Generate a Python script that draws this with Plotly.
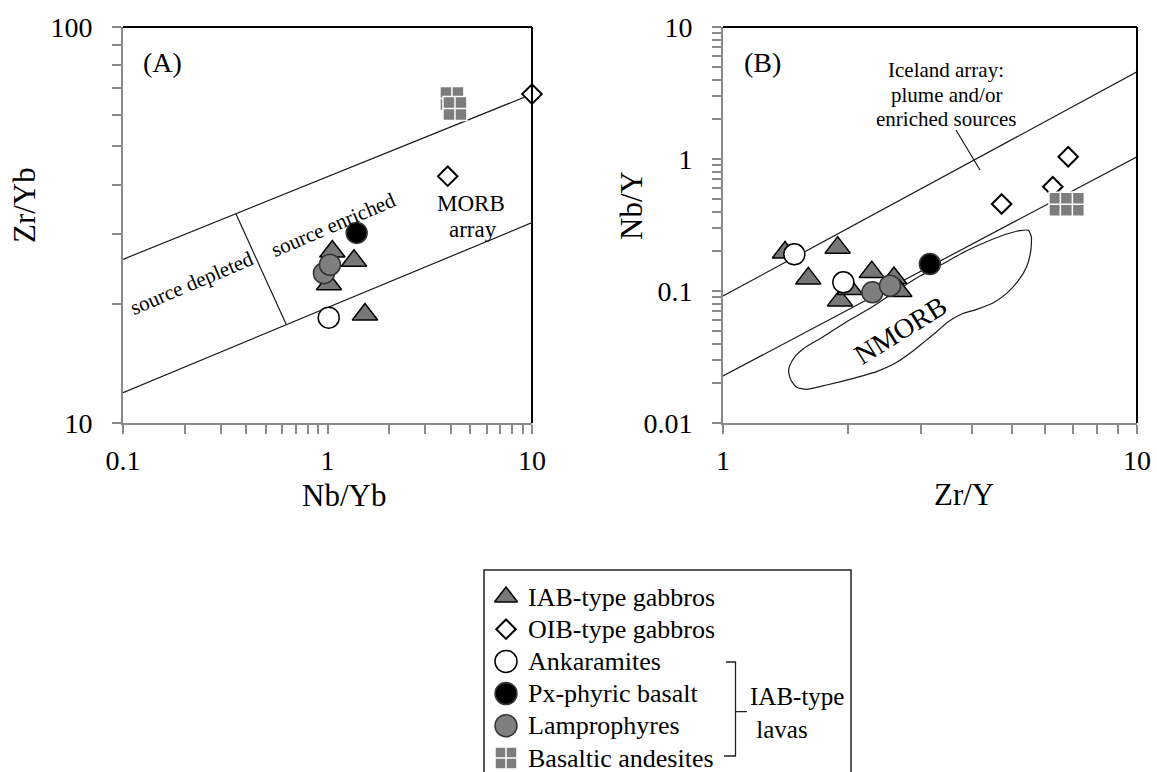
import plotly.graph_objects as go

W, H = 1157, 772
SERIF = "Liberation Serif, Times New Roman, serif"
AXIS_GREY = "#8a8a8a"

# ---------------- Panel A: Nb/Yb vs Zr/Yb ----------------
a_iab_nbyb = [1.056, 1.348, 1.017, 1.525]
a_iab_zryb = [27.1, 25.7, 22.4, 18.8]
a_oib_nbyb = [10.0, 3.87]
a_oib_zryb = [67.7, 42.0]
a_ank_nbyb = [1.014]
a_ank_zryb = [18.45]
a_pxb_nbyb = [1.389]
a_pxb_zryb = [30.2]
a_lam_nbyb = [0.961, 1.028]
a_lam_zryb = [23.9, 25.1]
a_ban_nbyb = [4.06, 4.20]
a_ban_zryb = [66.0, 62.3]

# MORB array boundaries and the depleted/enriched divide
a_upper_x = [0.1, 10.0]
a_upper_y = [25.9, 67.7]
a_lower_x = [0.1, 10.0]
a_lower_y = [11.93, 32.06]
a_split_x = [0.357, 0.627]
a_split_y = [33.7, 17.78]

# ---------------- Panel B: Zr/Y vs Nb/Y ----------------
b_iab_zry = [1.412, 1.892, 1.607, 2.287, 2.588, 2.666, 1.917, 2.027]
b_iab_nby = [0.196, 0.213, 0.1246, 0.139, 0.1255, 0.100, 0.0849, 0.1035]
b_oib_zry = [6.82, 6.26, 4.71]
b_oib_nby = [1.04, 0.617, 0.456]
b_ank_zry = [1.487, 1.953]
b_ank_nby = [0.1897, 0.1164]
b_pxb_zry = [3.16]
b_pxb_nby = [0.160]
b_lam_zry = [2.295, 2.532]
b_lam_nby = [0.0977, 0.1097]
b_ban_zry = [6.55, 6.98]
b_ban_nby = [0.4535, 0.4535]

# Iceland array boundaries
b_upper_x = [1.0, 10.0]
b_upper_y = [0.0916, 4.58]
b_lower_x = [1.0, 10.0]
b_lower_y = [0.0227, 1.04]
b_pointer_x = [3.654, 4.176]
b_pointer_y = [1.659, 0.825]

# N-MORB field outline
nmorb_zry = [1.446, 1.492, 1.563, 1.747, 1.989, 2.265, 2.627, 2.991, 3.344, 3.878,
             4.334, 4.844, 5.217, 5.464, 5.556, 5.535, 5.413, 5.169, 4.844, 4.498,
             4.101, 3.771, 3.501, 3.281, 3.047, 2.829, 2.603, 2.350, 2.064, 1.780,
             1.593, 1.506, 1.459, 1.441, 1.446]
nmorb_nby = [0.02672, 0.03180, 0.03656, 0.04508, 0.05858, 0.07389, 0.1006, 0.1299,
             0.1564, 0.2021, 0.2364, 0.2703, 0.2865, 0.2882, 0.2580, 0.1986, 0.1529,
             0.1198, 0.0960, 0.08155, 0.07261, 0.06695, 0.05858, 0.04917, 0.04061,
             0.03371, 0.02831, 0.02449, 0.02180, 0.01940, 0.01799, 0.01863, 0.02117,
             0.02449, 0.02672]

# tick values / labels
a_x_major = [0.1, 1, 10]
a_y_major = [10, 100]
b_x_major = [1, 10]
b_y_major = [0.01, 0.1, 1, 10]

# key entries, top to bottom
legend_names = ["IAB-type gabbros", "OIB-type gabbros", "Ankaramites",
                "Px-phyric basalt", "Lamprophyres", "Basaltic andesites"]


def px(v):
    return v / W


def py(v):
    return 1 - v / H


def with_minor(majors):
    vals, text = [], []
    for i, m in enumerate(majors):
        vals.append(m)
        text.append(f"{m:g}")
        if i < len(majors) - 1:
            for k in range(2, 10):
                vals.append(m * k)
                text.append("")
    return vals, text


styles = {
    "IAB-type gabbros": dict(symbol="triangle-up", size=22, color="#777777",
                             line=dict(color="black", width=1.5)),
    "OIB-type gabbros": dict(symbol="diamond", size=15, color="white",
                             line=dict(color="black", width=2)),
    "Ankaramites": dict(symbol="circle", size=21, color="white",
                        line=dict(color="black", width=1.5)),
    "Px-phyric basalt": dict(symbol="circle", size=21, color="black",
                             line=dict(color="#3a3a3a", width=1.5)),
    "Lamprophyres": dict(symbol="circle", size=21, color="#7f7f7f",
                         line=dict(color="#333333", width=1.5)),
    "Basaltic andesites": dict(symbol="square-cross", size=24, color="#7d7d7d",
                               line=dict(color="white", width=1.5)),
}

series_a = [
    ("IAB-type gabbros", a_iab_nbyb, a_iab_zryb),
    ("OIB-type gabbros", a_oib_nbyb, a_oib_zryb),
    ("Ankaramites", a_ank_nbyb, a_ank_zryb),
    ("Px-phyric basalt", a_pxb_nbyb, a_pxb_zryb),
    ("Lamprophyres", a_lam_nbyb, a_lam_zryb),
    ("Basaltic andesites", a_ban_nbyb, a_ban_zryb),
]
series_b = [
    ("IAB-type gabbros", b_iab_zry, b_iab_nby),
    ("OIB-type gabbros", b_oib_zry, b_oib_nby),
    ("Ankaramites", b_ank_zry, b_ank_nby),
    ("Px-phyric basalt", b_pxb_zry, b_pxb_nby),
    ("Lamprophyres", b_lam_zry, b_lam_nby),
    ("Basaltic andesites", b_ban_zry, b_ban_nby),
]

fig = go.Figure()

thin = dict(color="#1a1a1a", width=1.2)
for xs, ys in [(a_upper_x, a_upper_y), (a_lower_x, a_lower_y), (a_split_x, a_split_y)]:
    fig.add_trace(go.Scatter(x=xs, y=ys, mode="lines", line=thin, showlegend=False,
                             hoverinfo="skip", xaxis="x", yaxis="y"))
for xs, ys in [(b_upper_x, b_upper_y), (b_lower_x, b_lower_y), (b_pointer_x, b_pointer_y)]:
    fig.add_trace(go.Scatter(x=xs, y=ys, mode="lines", line=thin, showlegend=False,
                             hoverinfo="skip", xaxis="x2", yaxis="y2"))
fig.add_trace(go.Scatter(x=nmorb_zry, y=nmorb_nby, mode="lines",
                         line=dict(color="#1a1a1a", width=1.2, shape="spline", smoothing=0.6),
                         showlegend=False, hoverinfo="skip", xaxis="x2", yaxis="y2"))

for name, xs, ys in series_a:
    fig.add_trace(go.Scatter(x=xs, y=ys, mode="markers", name=name, showlegend=False,
                             marker=styles[name], cliponaxis=False, xaxis="x", yaxis="y"))
for name, xs, ys in series_b:
    fig.add_trace(go.Scatter(x=xs, y=ys, mode="markers", name=name, showlegend=False,
                             marker=styles[name], cliponaxis=False, xaxis="x2", yaxis="y2"))

# Key: swatches sit on a hidden pixel-scaled axis pair spanning the page
KEY_X, KEY_TOP, KEY_STEP = 506, 597, 32.2
key_sizes = {"IAB-type gabbros": 20, "OIB-type gabbros": 15, "Ankaramites": 22,
             "Px-phyric basalt": 22, "Lamprophyres": 22, "Basaltic andesites": 22}
for i, name in enumerate(legend_names):
    m = dict(styles[name])
    m["size"] = key_sizes[name]
    fig.add_trace(go.Scatter(x=[KEY_X], y=[KEY_TOP + KEY_STEP * i], mode="markers",
                             marker=m, showlegend=False, hoverinfo="skip",
                             cliponaxis=False, xaxis="x3", yaxis="y3"))


def log_axis(domain, rng, majors, standoff):
    vals, text = with_minor(majors)
    return dict(
        type="log", domain=domain, range=rng, showline=True, linecolor=AXIS_GREY,
        linewidth=2, ticks="outside", ticklen=9, tickwidth=2, tickcolor=AXIS_GREY,
        showgrid=False, zeroline=False, tickmode="array", tickvals=vals, ticktext=text,
        tickfont=dict(family=SERIF, size=28, color="black"), ticklabelstandoff=standoff,
        fixedrange=True, automargin=False,
    )


y_dom = [py(423), py(27)]
fig.update_layout(
    width=W, height=H, margin=dict(l=0, r=0, t=0, b=0, autoexpand=False),
    paper_bgcolor="white", plot_bgcolor="rgba(0,0,0,0)",
    font=dict(family=SERIF, color="black"),
    showlegend=False,
    xaxis=log_axis([px(123), px(532)], [-1, 1], a_x_major, 2),
    yaxis=log_axis(y_dom, [1, 2], a_y_major, 14),
    xaxis2=log_axis([px(723), px(1137)], [0, 1], b_x_major, 2),
    yaxis2=log_axis(y_dom, [-2, 1], b_y_major, 14),
    xaxis3=dict(domain=[0, 1], range=[0, W], visible=False, fixedrange=True,
                anchor="y3"),
    yaxis3=dict(domain=[0, 1], range=[H, 0], visible=False, fixedrange=True,
                anchor="x3"),
)
fig.update_layout(xaxis2_anchor="y2", yaxis2_anchor="x2")

shapes = []
for xr, yr in [("x", "y"), ("x2", "y2")]:
    shapes.append(dict(type="line", xref=f"{xr} domain", yref=f"{yr} domain",
                       x0=0, x1=1, y0=1, y1=1, line=dict(color="black", width=2)))
    shapes.append(dict(type="line", xref=f"{xr} domain", yref=f"{yr} domain",
                       x0=1, x1=1, y0=0, y1=1, line=dict(color="black", width=2)))
# key frame (runs past the bottom edge)
shapes.append(dict(type="rect", xref="paper", yref="paper", x0=px(484), x1=px(851),
                   y0=py(800), y1=py(570), line=dict(color="#222222", width=1.5)))
# bracket grouping the lava types
bracket = (f"M {px(726)},{py(662)} L {px(735.5)},{py(662)} L {px(735.5)},{py(756)} "
           f"L {px(724)},{py(756)} M {px(735.5)},{py(711.7)} L {px(747)},{py(711.7)}")
shapes.append(dict(type="path", xref="paper", yref="paper", path=bracket,
                   line=dict(color="#222222", width=1.3)))
fig.update_layout(shapes=shapes)


def note(text, x, y, size, angle=0, anchor="center", align="center"):
    return dict(text=text, x=px(x), y=py(y), xref="paper", yref="paper",
                xanchor=anchor, yanchor="middle", showarrow=False, textangle=angle,
                align=align, font=dict(family=SERIF, size=size, color="black"))


annotations = [
    note("(A)", 163, 63, 28),
    note("(B)", 762, 63, 28),
    note("Nb/Yb", 344, 496, 31),
    note("Zr/Y", 964, 494, 31),
    note("Zr/Yb", 24, 205, 31, angle=-90),
    note("Nb/Y", 631, 205, 31, angle=-90),
    note("source depleted", 192, 283, 21, angle=-23),
    note("source enriched", 333, 225, 21, angle=-23),
    note("MORB", 471, 203, 23),
    note("array", 473, 230, 23),
    note("Iceland array:", 946, 70, 21),
    note("plume and/or", 946, 95, 21),
    note("enriched sources", 946, 119, 21),
    note("NMORB", 900, 330, 28, angle=-32),
    note("IAB-type<br>&nbsp;lavas", 748, 713, 25, anchor="left", align="left"),
]
for i, name in enumerate(legend_names):
    annotations.append(note(name, 526, KEY_TOP + KEY_STEP * i, 26, anchor="left"))
fig.update_layout(annotations=annotations)

fig.write_html("out.html")
